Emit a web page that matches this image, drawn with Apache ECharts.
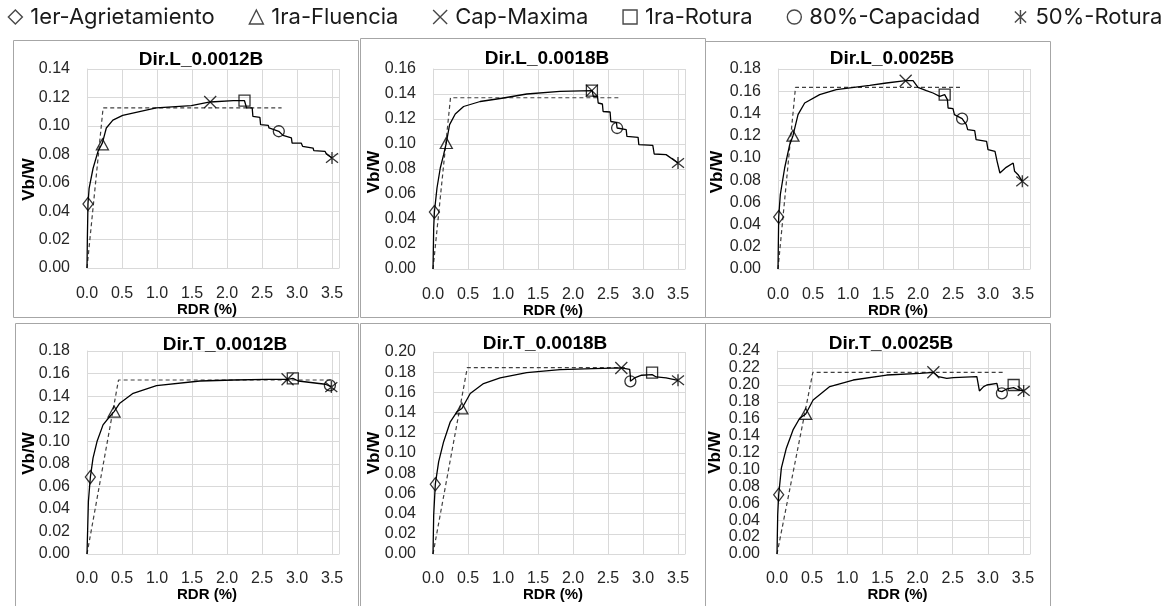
<!DOCTYPE html>
<html>
<head>
<meta charset="utf-8">
<script src="https://cdn.jsdelivr.net/npm/echarts@6/dist/echarts.min.js"></script>
<style>
  html, body { margin: 0; background: #fff; }
  #chart { width: 1170px; height: 606px; }
</style>
</head>
<body>
<div id="chart"></div>
<script>
// ---- data ----
const panelTitles = ["Dir.L_0.0012B", "Dir.L_0.0018B", "Dir.L_0.0025B", "Dir.T_0.0012B", "Dir.T_0.0018B", "Dir.T_0.0025B"];
const yMaxes = [0.14, 0.16, 0.18, 0.18, 0.20, 0.24];
const xTickStep = 0.5;
const yTickStep = 0.02;

const curveL12 = [[0,0],[0.005,0.02],[0.014,0.045],[0.03,0.056],[0.086,0.070],[0.157,0.082],[0.22,0.088],[0.276,0.0985],[0.37,0.104],[0.51,0.1074],[0.75,0.110],[0.99,0.1126],[1.49,0.1142],[1.76,0.1168],[2.09,0.1177],[2.25,0.1177],[2.28,0.1126],[2.36,0.1126],[2.37,0.1067],[2.47,0.106],[2.48,0.1008],[2.59,0.1004],[2.6,0.0985],[2.74,0.0962],[2.8,0.0933],[2.92,0.0915],[2.93,0.0879],[3.06,0.0879],[3.08,0.0856],[3.23,0.0844],[3.24,0.0826],[3.4,0.0821],[3.42,0.0802],[3.5,0.0774]];
const curveL18 = [[0,0],[0.01,0.0328],[0.02,0.0456],[0.057,0.0648],[0.104,0.0808],[0.152,0.0915],[0.19,0.1008],[0.237,0.1155],[0.318,0.124],[0.437,0.130],[0.674,0.134],[1.007,0.1368],[1.339,0.140],[1.814,0.1421],[2.274,0.1427],[2.29,0.138],[2.35,0.138],[2.36,0.1328],[2.42,0.132],[2.43,0.126],[2.53,0.1256],[2.54,0.118],[2.62,0.1173],[2.63,0.1128],[2.76,0.1115],[2.77,0.1061],[2.93,0.1053],[2.94,0.0995],[3.14,0.0989],[3.16,0.092],[3.33,0.0915],[3.5,0.0848]];
const curveL25 = [[0,0],[0.01,0.0468],[0.033,0.0669],[0.095,0.0909],[0.167,0.1119],[0.214,0.12],[0.286,0.1389],[0.381,0.1494],[0.595,0.1569],[0.833,0.1614],[1.31,0.1653],[1.548,0.1674],[1.824,0.1695],[1.929,0.1695],[2.0,0.1635],[2.12,0.1605],[2.214,0.1584],[2.31,0.1554],[2.381,0.1569],[2.42,0.1524],[2.43,0.1449],[2.5,0.1443],[2.52,0.1389],[2.63,0.1353],[2.69,0.1299],[2.71,0.1254],[2.81,0.1245],[2.83,0.1164],[2.98,0.1149],[3.0,0.1074],[3.1,0.1059],[3.13,0.0969],[3.17,0.0864],[3.26,0.0915],[3.36,0.0954],[3.38,0.0879],[3.43,0.0849],[3.49,0.0789]];
const curveT12 = [[0,0],[0.02,0.0466],[0.048,0.0682],[0.086,0.085],[0.143,0.0997],[0.229,0.1145],[0.325,0.1219],[0.387,0.1263],[0.468,0.1337],[0.659,0.1425],[0.993,0.1493],[1.614,0.1534],[2.09,0.1543],[2.57,0.1549],[2.865,0.1549],[2.94,0.1558],[3.02,0.1534],[3.286,0.1514],[3.405,0.1505],[3.486,0.1484]];
const curveT18 = [[0,0],[0.01,0.0388],[0.033,0.0691],[0.081,0.0914],[0.152,0.1112],[0.247,0.1309],[0.342,0.1408],[0.413,0.1441],[0.532,0.1589],[0.722,0.1688],[0.959,0.1743],[1.339,0.1796],[1.814,0.1826],[2.289,0.1836],[2.69,0.1842],[2.81,0.1829],[2.82,0.1753],[2.82,0.171],[2.88,0.1743],[2.98,0.177],[3.13,0.1776],[3.19,0.1753],[3.33,0.1743],[3.5,0.172]];
const curveT25 = [[0,0],[0.01,0.0464],[0.024,0.070],[0.062,0.1015],[0.133,0.1251],[0.228,0.1467],[0.323,0.1605],[0.409,0.1656],[0.514,0.1821],[0.751,0.1979],[1.084,0.2057],[1.56,0.2116],[2.035,0.2136],[2.225,0.2148],[2.297,0.2097],[2.416,0.2077],[2.51,0.2085],[2.844,0.2097],[2.867,0.2077],[2.88,0.1928],[2.94,0.1979],[2.986,0.1998],[3.129,0.2018],[3.153,0.1928],[3.2,0.192],[3.27,0.1951],[3.367,0.1967],[3.44,0.1939],[3.51,0.1928]];

const bilinL12 = [[0,0],[0.23,0.1126],[2.78,0.1126]];
const bilinL18 = [[0,0],[0.25,0.137],[2.67,0.137]];
const bilinL25 = [[0,0],[0.25,0.1635],[2.64,0.1635]];
const bilinT12 = [[0,0],[0.45,0.1543],[3.52,0.1543]];
const bilinT18 = [[0,0],[0.49,0.1845],[2.76,0.1845]];
const bilinT25 = [[0,0],[0.51,0.2148],[3.22,0.2148]];

// one point per panel, in panel order
const agrietamiento = [[0.014,0.045],[0.02,0.0456],[0.01,0.0468],[0.048,0.0682],[0.033,0.0691],[0.024,0.070]];
const fluencia = [[0.22,0.087],[0.19,0.1008],[0.214,0.12],[0.387,0.1263],[0.413,0.1441],[0.409,0.1656]];
const capMaxima = [[1.76,0.1168],[2.27,0.1427],[1.824,0.1695],[2.865,0.1549],[2.69,0.1842],[2.225,0.2148]];
const rotura = [[2.25,0.1177],[2.27,0.1427],[2.381,0.1569],[2.94,0.1558],[3.13,0.1796],[3.367,0.1998]];
const capacidad80 = [[2.74,0.0962],[2.63,0.1128],[2.63,0.1353],[3.47,0.1495],[2.82,0.171],[3.2,0.19]];
const rotura50 = [[3.5,0.0774],[3.5,0.0848],[3.49,0.0789],[3.49,0.148],[3.5,0.172],[3.51,0.1928]];

const curves = [curveL12, curveL18, curveL25, curveT12, curveT18, curveT25];
const bilins = [bilinL12, bilinL18, bilinL25, bilinT12, bilinT18, bilinT25];

// ---- layout ----
const font = "Liberation Sans";
const grids = [
  { left: 87, top: 69, width: 252, height: 199 },
  { left: 433, top: 69, width: 252, height: 200 },
  { left: 778, top: 69, width: 252, height: 200 },
  { left: 87, top: 351, width: 252, height: 203 },
  { left: 433, top: 352, width: 252, height: 202 },
  { left: 777, top: 351, width: 253, height: 203 }
];
const titleCenters = [196, 542, 887, 220, 540, 886];
const titleTops = [45, 44, 44, 330, 329, 329];
const yNamePad = [[0, 22, 0, 0], [0, 6, 0, 0], [0, 6, 0, 0], [0, 2, 0, 0], [0, 0, 0, 0], [0, 0, 0, 0]];
const yNameGaps = [49, 50, 52, 49, 50, 53];
const xNameGaps = [34, 34, 34, 33, 33, 33];
const xLabelMargins = [18, 18, 18, 17, 17, 17];
const boxes = [
  [13, 40, 345, 277], [360, 38, 345, 279], [705, 41, 345, 276],
  [15, 323, 343, 290], [360, 323, 345, 290], [705, 323, 345, 290]
];

const crossPath = "path://M1,1L9,9M1,9L9,1";
const starPath = "path://M1,1L9,9M1,9L9,1M5,0L5,10";
const markerDefs = [
  { name: "1er-Agrietamiento", data: agrietamiento, symbol: "diamond", size: [10, 13] },
  { name: "1ra-Fluencia", data: fluencia, symbol: "triangle", size: [12, 11] },
  { name: "Cap-Maxima", data: capMaxima, symbol: crossPath, size: 12 },
  { name: "1ra-Rotura", data: rotura, symbol: "rect", size: 11 },
  { name: "80%-Capacidad", data: capacidad80, symbol: "circle", size: 11 },
  { name: "50%-Rotura", data: rotura50, symbol: starPath, size: 12 }
];
const hollow = { color: "rgba(0,0,0,0)", borderColor: "#000", borderWidth: 1.3 };
const legendHollow = { color: "rgba(0,0,0,0)", borderColor: "#1a1a1a", borderWidth: 1.4 };

const chart = echarts.init(document.getElementById("chart"));

const xAxes = [], yAxes = [], titles = [], series = [];
grids.forEach((g, i) => {
  titles.push({
    text: panelTitles[i],
    left: titleCenters[i],
    top: titleTops[i],
    textAlign: "center",
    textStyle: { fontFamily: font, fontSize: 19, fontWeight: "bold", color: "#000" }
  });
  xAxes.push({
    gridIndex: i, type: "value", min: 0, max: 3.6, interval: xTickStep,
    name: "RDR (%)", nameLocation: "middle", nameGap: xNameGaps[i], nameMoveOverlap: false,
    nameTextStyle: { fontFamily: font, fontSize: 15, fontWeight: "bold", color: "#000", padding: [0, 12, 0, 0] },
    axisLine: { show: true, lineStyle: { color: "#d9d9d9" } },
    axisTick: { show: false },
    splitLine: { show: true, lineStyle: { color: "#d9d9d9" } },
    axisLabel: {
      margin: xLabelMargins[i], fontFamily: font, fontSize: 16, color: "#262626",
      formatter: v => (Math.abs(v / xTickStep - Math.round(v / xTickStep)) < 1e-6 ? v.toFixed(1) : "")
    }
  });
  yAxes.push({
    gridIndex: i, type: "value", min: 0, max: yMaxes[i], interval: yTickStep,
    name: "Vb/W", nameLocation: "middle", nameGap: yNameGaps[i], nameMoveOverlap: false,
    nameTextStyle: { fontFamily: font, fontSize: 17, fontWeight: "bold", color: "#000", padding: yNamePad[i] },
    axisLine: { show: true, lineStyle: { color: "#d9d9d9" } },
    axisTick: { show: false },
    splitLine: { show: true, lineStyle: { color: "#d9d9d9" } },
    axisLabel: { margin: 17, fontFamily: font, fontSize: 16, color: "#262626", formatter: v => v.toFixed(2) }
  });
  series.push({
    type: "line", xAxisIndex: i, yAxisIndex: i, data: bilins[i], symbol: "none", silent: true,
    lineStyle: { color: "#404040", width: 1.2, type: [4, 3] }, z: 2
  });
  series.push({
    type: "line", xAxisIndex: i, yAxisIndex: i, data: curves[i], symbol: "none", silent: true,
    lineStyle: { color: "#000", width: 1.3 }, z: 3
  });
  markerDefs.forEach(m => {
    series.push({
      name: m.name, type: "scatter", xAxisIndex: i, yAxisIndex: i,
      data: [m.data[i]], symbol: m.symbol, symbolSize: m.size,
      itemStyle: hollow, z: 4
    });
  });
});

chart.setOption({
  backgroundColor: "#fff",
  animation: false,
  title: titles,
  legend: {
    left: "center", top: 1, itemGap: 34, itemWidth: 14, itemHeight: 14,
    textStyle: { fontFamily: "Inter", fontSize: 22, color: "#1a1a1a", padding: [0, 0, 0, 3] },
    data: markerDefs.map(m => ({ name: m.name, icon: m.symbol, itemStyle: legendHollow }))
  },
  graphic: boxes.map(b => ({
    type: "rect", silent: true, z: -10,
    shape: { x: b[0] + 0.5, y: b[1] + 0.5, width: b[2], height: b[3] },
    style: { fill: "none", stroke: "#a6a6a6", lineWidth: 1 }
  })),
  grid: grids,
  xAxis: xAxes,
  yAxis: yAxes,
  series: series
});
</script>
</body>
</html>
